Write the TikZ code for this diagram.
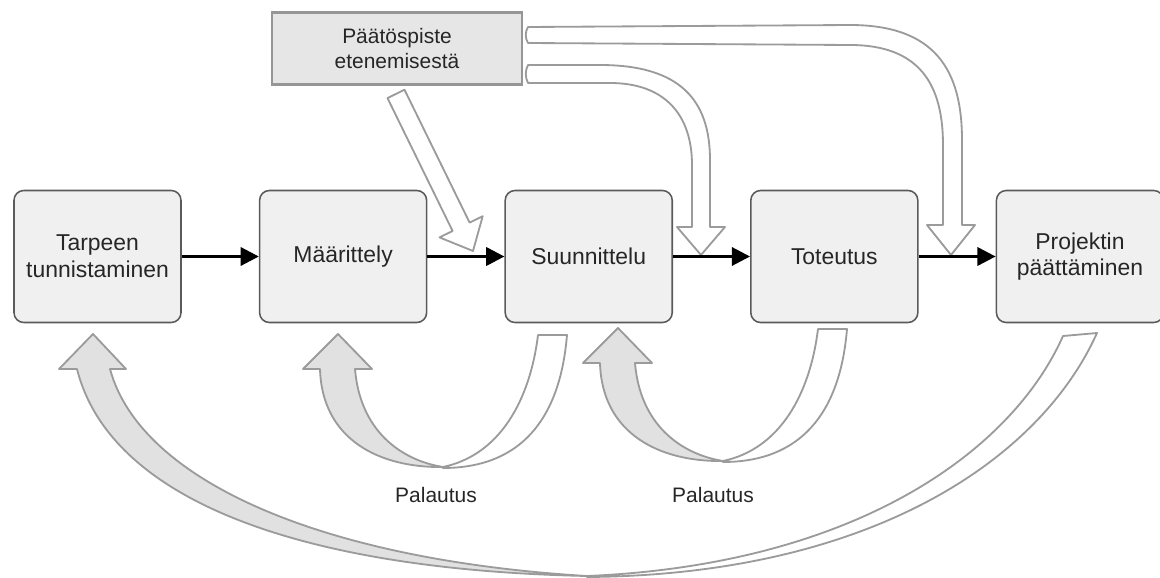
\documentclass[tikz,border=0pt]{standalone}
\usepackage{fontspec}
\setmainfont{Liberation Sans}
\usepackage{tikz}
\usetikzlibrary{positioning,arrows.meta}
\usepackage{xcolor}
\definecolor{boxfill}{RGB}{240,240,240}
\definecolor{boxline}{RGB}{90,90,90}
\definecolor{gatefill}{RGB}{230,230,230}
\definecolor{gateline}{RGB}{150,150,150}
\definecolor{arrowline}{RGB}{155,155,155}
\definecolor{backfill}{RGB}{225,225,225}

\begin{document}
\begin{tikzpicture}[x=0.025cm,y=-0.025cm,
          every node/.style={font=\fontsize{16.3}{19}\selectfont,text=black!85},
          phase/.style={rectangle,rounded corners=7pt,draw=boxline,line width=1.1pt,fill=boxfill,
                        minimum width=4.175cm,minimum height=3.3cm,align=center},
          gate/.style={rectangle,draw=gateline,line width=1.6pt,fill=gatefill,
                       minimum width=6.25cm,minimum height=1.8cm,align=center,
                       font=\fontsize{14.9}{17.7}\selectfont},
          note/.style={font=\fontsize{14.9}{17.7}\selectfont},
          flow/.style={black,line width=2.1pt,-{Triangle[length=13pt,width=13pt]}},
          hollow/.style={draw=arrowline,line width=1.3pt,fill=white,line join=round},
          back/.style={draw=arrowline,line width=1.3pt,fill=backfill,line join=round},
        ]
        \useasboundingbox (0,0) rectangle (1160,578);
        % vaiheet
        \node[phase] (tarve) at (97.5,256.5) {Tarpeen\\tunnistaminen};
        \node[phase,right=1.925cm of tarve] (maar) {Määrittely};
        \node[phase,right=1.925cm of maar]  (suun) {Suunnittelu};
        \node[phase,right=1.925cm of suun]  (tote) {Toteutus};
        \node[phase,right=1.925cm of tote]  (paat) {Projektin\\päättäminen};
        \node[gate] (gate) at (397,48.5) {Päätöspiste\\etenemisestä};
        % paatospisteen nuolet
        \draw[hollow] (387.5,98.1) -- (452.6,231.0) -- (439.5,237.4) -- (473,251)
          -- (482.7,216.2) -- (469.6,222.6) -- (404.5,89.7) -- cycle;
        \draw[hollow] (528,65) -- (600,65) .. controls (680,65) and (710,100) .. (710,160)
          -- (710,227) -- (725,227) -- (701,255) -- (677,227) -- (692,227) -- (692,165)
          .. controls (692,115) and (665,83) .. (610,83) -- (528,83)
          .. controls (525,77) and (525,71) .. cycle;
        \draw[hollow] (528,27) -- (850,25) .. controls (935,25) and (962,70) .. (962,140)
          -- (962,225) -- (975,225) -- (951,255) -- (927,225) -- (943,225) -- (943,145)
          .. controls (943,85) and (920,45) .. (850,45) -- (528,43)
          .. controls (525,38) and (525,32) .. cycle;
        % palautukset
        \foreach \dx/\dy in {0/0,280/-6} {
          \begin{scope}[shift={(\dx,\dy)}]
            \draw[back] (320,369) -- (303,369) -- (338,334) -- (372,369) -- (355,369)
              .. controls (360,430) and (400,460) .. (443,467)
              .. controls (380,468) and (322,440) .. (320,369) -- cycle;
            \draw[hollow] (443,467) .. controls (500,455) and (530,400) .. (538,335)
              -- (567,335) .. controls (560,420) and (520,468) .. (443,468) -- cycle;
          \end{scope}
        }
        \draw[back] (77,369) -- (59,369) -- (93,334) -- (126,369) -- (110,369)
          .. controls (140,480) and (320,560) .. (587,576)
          .. controls (300,570) and (110,500) .. (77,369) -- cycle;
        \draw[hollow] (587,576) .. controls (850,565) and (1010,455) .. (1063,336)
          -- (1097,333) .. controls (1040,460) and (870,575) .. (587,577) -- cycle;
        \node[note] (pal1) at (436,495) {Palautus};
        \node[note] (pal2) at (713,495) {Palautus};
        % eteneminen
        \draw[flow] (tarve) -- (maar);
        \draw[flow] (maar) -- (suun);
        \draw[flow] (suun) -- (tote);
        \draw[flow] (tote) -- (paat);
      \end{tikzpicture}
\end{document}
